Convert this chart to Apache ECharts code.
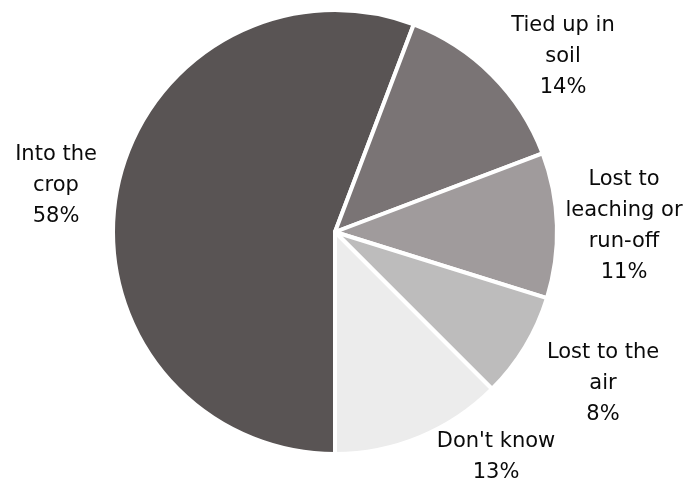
<!DOCTYPE html>
<html>
<head>
<meta charset="utf-8">
<script src="https://cdn.jsdelivr.net/npm/echarts@6/dist/echarts.min.js"></script>
<style>
  html, body { margin: 0; padding: 0; background: #ffffff; }
  #chart { width: 688px; height: 485px; }
</style>
</head>
<body>
<div id="chart"></div>
<script>
// Where the applied nitrogen goes (survey answers, %)
const categories = ['Into the crop', 'Tied up in soil', 'Lost to leaching or run-off', 'Lost to the air', "Don't know"];
const labelLines = [
  ['Into the', 'crop'],
  ['Tied up in', 'soil'],
  ['Lost to', 'leaching or', 'run-off'],
  ['Lost to the', 'air'],
  ["Don't know"]
];
const shares = [58, 14, 11, 8, 13];
const sliceColors = ['#595454', '#7a7475', '#a09b9c', '#bdbcbc', '#ececec'];

// Label block centres (px) placed around the pie
const labelSpots = [[56, 186], [563, 57], [624, 226], [603, 384], [496, 457]];

const chart = echarts.init(document.getElementById('chart'), null, { renderer: 'canvas' });

chart.setOption({
  animation: false,
  backgroundColor: '#ffffff',
  series: [{
    type: 'pie',
    center: [335, 232],
    radius: [0, 222],
    startAngle: 270,
    clockwise: true,
    avoidLabelOverlap: false,
    itemStyle: { borderColor: '#ffffff', borderWidth: 4 },
    label: {
      show: true,
      position: 'outside',
      fontFamily: 'DejaVu Sans',
      fontSize: 21,
      lineHeight: 31,
      color: '#0a0a0a',
      align: 'center',
      formatter: p => labelLines[p.dataIndex].concat([p.value + '%']).join('\n')
    },
    labelLine: { show: false },
    labelLayout: p => ({
      x: labelSpots[p.dataIndex][0],
      y: labelSpots[p.dataIndex][1],
      align: 'center',
      verticalAlign: 'middle'
    }),
    data: categories.map((name, i) => ({
      name: name,
      value: shares[i],
      itemStyle: { color: sliceColors[i] }
    }))
  }]
});
</script>
</body>
</html>
